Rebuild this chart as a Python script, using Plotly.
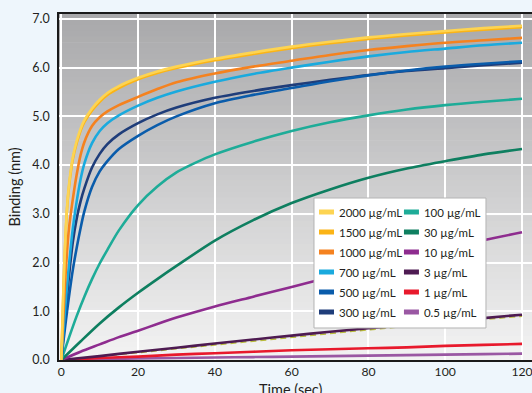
import plotly.graph_objects as go

# ---------------- data ----------------
t_fast = [0, 0.5, 1, 1.5, 2, 3, 4, 5, 6, 8, 10, 12, 15, 20, 25, 30, 40, 50, 60, 70, 80, 90, 100, 110, 120]
b_2000 = [0, 1.34, 2.39, 3.14, 3.59, 4.16, 4.49, 4.74, 4.92, 5.16, 5.34, 5.48, 5.62, 5.79, 5.92, 6.02, 6.18, 6.31, 6.43, 6.53, 6.62, 6.69, 6.75, 6.81, 6.86]
b_1500 = [0, 1.3, 2.35, 3.1, 3.55, 4.12, 4.45, 4.7, 4.88, 5.12, 5.3, 5.44, 5.58, 5.76, 5.89, 5.99, 6.15, 6.28, 6.4, 6.5, 6.59, 6.66, 6.72, 6.78, 6.83]
b_1000 = [0, 0.85, 1.6, 2.22, 2.7, 3.3, 3.8, 4.2, 4.47, 4.8, 4.98, 5.1, 5.23, 5.4, 5.56, 5.7, 5.88, 6.02, 6.14, 6.26, 6.36, 6.44, 6.51, 6.56, 6.61]
b_700 = [0, 0.55, 1.05, 1.52, 1.95, 2.7, 3.25, 3.7, 4.03, 4.45, 4.7, 4.86, 5.02, 5.22, 5.38, 5.51, 5.71, 5.87, 6.0, 6.12, 6.23, 6.32, 6.39, 6.46, 6.51]
b_500 = [0, 0.35, 0.68, 1.0, 1.3, 1.85, 2.3, 2.7, 3.05, 3.55, 3.87, 4.08, 4.33, 4.6, 4.82, 5.0, 5.27, 5.44, 5.58, 5.72, 5.84, 5.94, 6.02, 6.08, 6.13]
b_300 = [0, 0.45, 0.9, 1.32, 1.72, 2.42, 2.9, 3.25, 3.52, 3.95, 4.23, 4.43, 4.63, 4.86, 5.04, 5.18, 5.38, 5.52, 5.64, 5.75, 5.85, 5.93, 5.99, 6.05, 6.1]

t_100 = [0, 2, 4, 6, 8, 10, 12, 15, 20, 25, 30, 35, 40, 50, 60, 70, 80, 90, 100, 110, 120]
b_100 = [0, 0.46, 0.9, 1.3, 1.66, 1.98, 2.26, 2.66, 3.18, 3.56, 3.85, 4.05, 4.22, 4.48, 4.7, 4.88, 5.02, 5.14, 5.23, 5.3, 5.36]

t_slow = [0, 5, 10, 15, 20, 25, 30, 40, 50, 60, 70, 80, 90, 100, 110, 120]
b_30 = [0, 0.38, 0.75, 1.08, 1.38, 1.66, 1.93, 2.45, 2.87, 3.22, 3.5, 3.74, 3.93, 4.08, 4.22, 4.33]
b_10 = [0, 0.17, 0.32, 0.47, 0.6, 0.74, 0.87, 1.1, 1.3, 1.5, 1.7, 1.9, 2.1, 2.28, 2.46, 2.62]

t_low = [0, 10, 20, 30, 40, 50, 60, 70, 80, 90, 100, 110, 120]
b_3 = [0, 0.08, 0.17, 0.25, 0.34, 0.42, 0.5, 0.58, 0.65, 0.72, 0.79, 0.86, 0.93]
b_ref = [0, 0.07, 0.15, 0.23, 0.31, 0.39, 0.47, 0.55, 0.62, 0.69, 0.76, 0.83, 0.9]
b_1 = [0, 0.04, 0.07, 0.11, 0.14, 0.17, 0.2, 0.22, 0.24, 0.26, 0.29, 0.31, 0.33]
b_05 = [0, 0.02, 0.03, 0.04, 0.05, 0.06, 0.07, 0.08, 0.09, 0.1, 0.11, 0.12, 0.13]

x_ticks = [0, 20, 40, 60, 80, 100, 120]
y_ticks = [0, 1, 2, 3, 4, 5, 6, 7]

# name, x, y, colour, legend column
series = [
    ("0.5 µg/mL", t_low, b_05, "#9a58a3", 2),
    ("1 µg/mL", t_low, b_1, "#e8192c", 2),
    ("3 µg/mL", t_low, b_3, "#4e1b52", 2),
    ("10 µg/mL", t_slow, b_10, "#8e2c8f", 2),
    ("30 µg/mL", t_slow, b_30, "#0e7f60", 2),
    ("100 µg/mL", t_100, b_100, "#1eac98", 2),
    ("300 µg/mL", t_fast, b_300, "#1f3d7a", 1),
    ("500 µg/mL", t_fast, b_500, "#0a5cab", 1),
    ("700 µg/mL", t_fast, b_700, "#1aaade", 1),
    ("1000 µg/mL", t_fast, b_1000, "#f5821f", 1),
    ("1500 µg/mL", t_fast, b_1500, "#fbb416", 1),
    ("2000 µg/mL", t_fast, b_2000, "#fdd452", 1),
]
legend_order = ["2000 µg/mL", "1500 µg/mL", "1000 µg/mL", "700 µg/mL", "500 µg/mL", "300 µg/mL",
                "100 µg/mL", "30 µg/mL", "10 µg/mL", "3 µg/mL", "1 µg/mL", "0.5 µg/mL"]

fig = go.Figure()

# faint reference line under the 3 µg/mL curve
fig.add_trace(go.Scatter(x=t_low, y=b_ref, mode="lines", showlegend=False, hoverinfo="skip",
                         line=dict(color="#b8bb3a", width=1.5, dash="6px,4px")))

for name, xs, ys, col, _ in series:
    fig.add_trace(go.Scatter(x=xs, y=ys, mode="lines", name=name, showlegend=False,
                             line=dict(color=col, width=2.6, shape="spline", smoothing=0.8)))

# legend entries
colmap = {s[0]: (s[3], s[4]) for s in series}
for rank, name in enumerate(legend_order):
    col, lcol = colmap[name]
    fig.add_trace(go.Scatter(x=[None], y=[None], mode="lines", name=name,
                             legend="legend" if lcol == 1 else "legend2",
                             legendgroup=name, legendrank=rank,
                             line=dict(color=col, width=5, dash="0px,15px,15px,100px")))

# gradient background of the plot area
n_bands = 60
top_rgb = (168, 168, 170)
bot_rgb = (243, 243, 243)
for i in range(n_bands):
    f = (i + 0.5) / n_bands
    r = round(top_rgb[0] + (bot_rgb[0] - top_rgb[0]) * f)
    g = round(top_rgb[1] + (bot_rgb[1] - top_rgb[1]) * f)
    b = round(top_rgb[2] + (bot_rgb[2] - top_rgb[2]) * f)
    fig.add_shape(type="rect", xref="paper", yref="paper", x0=0, x1=1,
                  y0=1 - (i + 1) / n_bands, y1=1 - i / n_bands + 0.002,
                  fillcolor=f"rgb({r},{g},{b})", line=dict(width=0), layer="below")

# legend box
fig.add_shape(type="rect", xref="paper", yref="paper", x0=0.5391, x1=0.9027, y0=0.0925, y1=0.4682,
              fillcolor="white", line=dict(color="#b4b4b4", width=1), layer="above")

font_family = "Lato"
legend_common = dict(bgcolor="rgba(0,0,0,0)", borderwidth=0, yanchor="top", xanchor="left",
                     font=dict(family=font_family, size=11.5, color="#231f20"),
                     tracegroupgap=1, orientation="v")

# x-axis title (partly cut off by the bottom edge, as in the reference)
fig.add_annotation(text="Time (sec)", xref="paper", yref="paper", x=0.4915, y=-0.055,
                   xanchor="center", yanchor="top", showarrow=False,
                   font=dict(family=font_family, size=14.5, color="#231f20"))

fig.update_layout(
    width=532, height=393,
    margin=dict(l=59, r=0, t=14, b=33),
    paper_bgcolor="#eef6fc",
    plot_bgcolor="rgba(0,0,0,0)",
    font=dict(family=font_family, color="#231f20"),
    legend=dict(x=0.5074, y=0.4695, **legend_common),
    legend2=dict(x=0.687, y=0.4695, **legend_common),
    xaxis=dict(range=[-0.6, 122.6], tickvals=x_ticks, ticktext=[str(v) for v in x_ticks],
               showgrid=True, gridcolor="white", gridwidth=1.5, zeroline=False,
               showline=True, linecolor="#1a1a1a", linewidth=1.5, mirror=True,
               ticks="", tickfont=dict(size=12.2, color="#231f20"), ticklabeloverflow="allow",
               automargin=False),
    yaxis=dict(range=[0, 7.1], tickvals=y_ticks, ticktext=[f"{v:.1f}" for v in y_ticks],
               showgrid=True, gridcolor="white", gridwidth=1.5, zeroline=False,
               showline=True, linecolor="#1a1a1a", linewidth=1.5,
               ticks="outside", ticklen=5, tickcolor="rgba(0,0,0,0)",
               tickfont=dict(size=12.5, color="#231f20"),
               title=dict(text="Binding (nm)", font=dict(size=14.5), standoff=8), automargin=False),
)

fig.write_html("out.html", config={"displayModeBar": False},
               post_script="document.body.style.margin='0';")
